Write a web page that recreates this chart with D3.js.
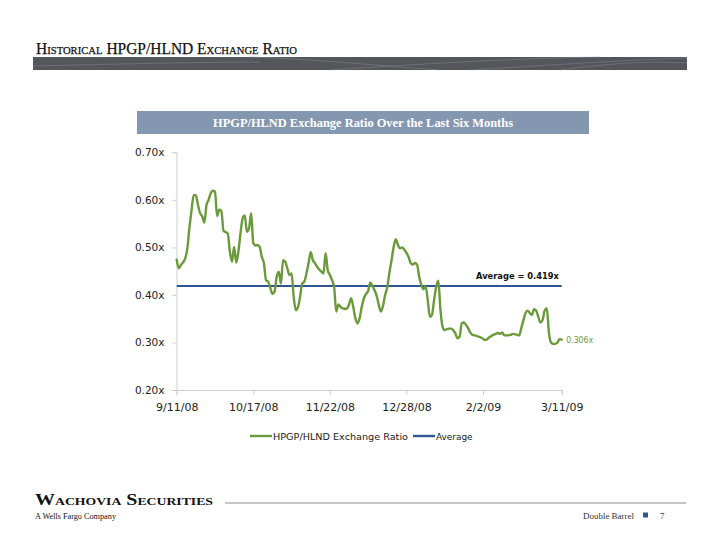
<!DOCTYPE html>
<html>
<head>
<meta charset="utf-8">
<script src="https://cdn.jsdelivr.net/npm/d3@7"></script>
<style>
  html, body { margin: 0; padding: 0; background: #fff; }
  svg { display: block; }
</style>
</head>
<body>
<svg id="chart" width="720" height="556"></svg>
<script>
// ---------------- DATA ----------------
const dates = [
"2008-09-11","2008-09-12","2008-09-13","2008-09-15","2008-09-16","2008-09-17","2008-09-18","2008-09-19","2008-09-20","2008-09-21",
"2008-09-22","2008-09-23","2008-09-24","2008-09-25","2008-09-26","2008-09-27","2008-09-28","2008-09-29","2008-09-30","2008-10-01",
"2008-10-02","2008-10-03","2008-10-05","2008-10-06","2008-10-07","2008-10-08","2008-10-09","2008-10-10","2008-10-11","2008-10-12",
"2008-10-13","2008-10-14","2008-10-15","2008-10-16","2008-10-17","2008-10-18","2008-10-19","2008-10-20","2008-10-21","2008-10-22",
"2008-10-23","2008-10-24","2008-10-25","2008-10-26","2008-10-27","2008-10-28","2008-10-29","2008-10-30","2008-10-31","2008-11-01",
"2008-11-02","2008-11-03","2008-11-04","2008-11-05","2008-11-06","2008-11-07","2008-11-08","2008-11-09","2008-11-10","2008-11-11",
"2008-11-12","2008-11-13","2008-11-14","2008-11-15","2008-11-16","2008-11-18","2008-11-19","2008-11-20","2008-11-21","2008-11-22",
"2008-11-23","2008-11-24","2008-11-25","2008-11-26","2008-11-27","2008-11-28","2008-11-29","2008-11-30","2008-12-01","2008-12-02",
"2008-12-03","2008-12-04","2008-12-05","2008-12-06","2008-12-07","2008-12-08","2008-12-09","2008-12-10","2008-12-11","2008-12-12",
"2008-12-13","2008-12-14","2008-12-15","2008-12-16","2008-12-17","2008-12-18","2008-12-19","2008-12-20","2008-12-21","2008-12-22",
"2008-12-23","2008-12-24","2008-12-25","2008-12-26","2008-12-27","2008-12-29","2008-12-30","2008-12-31","2009-01-01","2009-01-02",
"2009-01-03","2009-01-04","2009-01-05","2009-01-06","2009-01-07","2009-01-08","2009-01-09","2009-01-10","2009-01-11","2009-01-12",
"2009-01-13","2009-01-14","2009-01-15","2009-01-16","2009-01-17","2009-01-18","2009-01-19","2009-01-20","2009-01-21","2009-01-22",
"2009-01-23","2009-01-24","2009-01-25","2009-01-26","2009-01-27","2009-01-28","2009-01-29","2009-01-31","2009-02-02","2009-02-03",
"2009-02-04","2009-02-05","2009-02-07","2009-02-08","2009-02-09","2009-02-10","2009-02-11","2009-02-12","2009-02-13","2009-02-15",
"2009-02-16","2009-02-18","2009-02-19","2009-02-20","2009-02-21","2009-02-22","2009-02-23","2009-02-24","2009-02-25","2009-02-26",
"2009-02-27","2009-02-28","2009-03-01","2009-03-02","2009-03-03","2009-03-04","2009-03-05","2009-03-06","2009-03-07","2009-03-08",
"2009-03-09","2009-03-10","2009-03-11"
];
const ratioValues = [
0.474,0.456,0.463,0.477,0.498,0.542,0.579,0.610,0.610,0.589,
0.572,0.565,0.552,0.589,0.600,0.614,0.619,0.617,0.566,0.579,
0.577,0.535,0.529,0.491,0.470,0.501,0.468,0.491,0.530,0.561,
0.567,0.533,0.540,0.572,0.509,0.504,0.505,0.501,0.480,0.467,
0.431,0.428,0.415,0.402,0.407,0.438,0.449,0.424,0.473,0.470,
0.456,0.442,0.445,0.396,0.368,0.374,0.396,0.424,0.428,0.445,
0.467,0.490,0.473,0.467,0.459,0.449,0.445,0.488,0.452,0.442,
0.431,0.417,0.365,0.380,0.375,0.372,0.371,0.371,0.380,0.393,
0.375,0.351,0.340,0.351,0.375,0.393,0.402,0.408,0.426,0.419,
0.410,0.398,0.379,0.365,0.377,0.400,0.416,0.447,0.473,0.501,
0.517,0.505,0.498,0.500,0.495,0.480,0.467,0.464,0.467,0.464,
0.438,0.421,0.412,0.418,0.390,0.354,0.358,0.389,0.417,0.430,
0.368,0.333,0.326,0.328,0.329,0.329,0.326,0.319,0.309,0.312,
0.340,0.342,0.337,0.330,0.321,0.316,0.315,0.312,0.308,0.305,
0.307,0.311,0.316,0.318,0.320,0.318,0.321,0.315,0.315,0.316,
0.318,0.316,0.315,0.330,0.347,0.362,0.367,0.362,0.358,0.370,
0.367,0.354,0.342,0.347,0.367,0.372,0.320,0.300,0.297,0.297,
0.300,0.307,0.306
];
const averageValue = 0.419;
const lastValue = 0.306;
const xTickDates = ["2008-09-11","2008-10-17","2008-11-22","2008-12-28","2009-02-02","2009-03-11"];
const yTickValues = [0.20, 0.30, 0.40, 0.50, 0.60, 0.70];
const seriesNames = ["HPGP/HLND Exchange Ratio", "Average"];
const pageTitle = "Historical HPGP/HLND Exchange Ratio";
const chartTitle = "HPGP/HLND Exchange Ratio Over the Last Six Months";

// ---------------- DRAW ----------------
const parse = d3.timeParse("%Y-%m-%d");
const fmtDate = d3.timeFormat("%-m/%-d/%y");
const data = dates.map((d, i) => ({ date: parse(d), value: ratioValues[i] }));

const svg = d3.select("#chart");
svg.append("rect").attr("width", 720).attr("height", 556).attr("fill", "#fff");

const GREEN = "#6B9A3A";
const BLUE = "#2F5597";
const AXISFONT = "'DejaVu Sans', Verdana, sans-serif";
const SERIF = "'Liberation Serif', 'DejaVu Serif', serif";

// page title
svg.append("text")
  .attr("x", 36).attr("y", 54)
  .attr("font-family", SERIF)
  .attr("font-size", 16)
  .attr("font-variant", "small-caps")
  .attr("fill", "#111")
  .attr("stroke", "#111").attr("stroke-width", 0.25)
  .attr("textLength", 261).attr("lengthAdjust", "spacingAndGlyphs")
  .text(pageTitle);

// decorative band
const band = svg.append("g");
band.append("rect").attr("x", 33).attr("y", 57).attr("width", 654).attr("height", 13).attr("fill", "#55565b");
const bandLines = [
  "M250,57 C330,60 380,66 440,70",
  "M330,70 C420,64 520,58 600,57",
  "M470,70 C540,66 620,60 687,58",
  "M560,70 C600,65 640,60 687,63",
  "M33,66 C120,64 200,62 260,62"
];
band.selectAll("path").data(bandLines).enter().append("path")
  .attr("d", d => d).attr("fill", "none").attr("stroke", "#8a8f99")
  .attr("stroke-width", 0.8).attr("opacity", 0.55);

// chart header box
svg.append("rect").attr("x", 137).attr("y", 111).attr("width", 452).attr("height", 23).attr("fill", "#8497B0");
svg.append("text")
  .attr("x", 363).attr("y", 127)
  .attr("text-anchor", "middle")
  .attr("font-family", SERIF)
  .attr("font-size", 12.5).attr("font-weight", "bold")
  .attr("fill", "#fff")
  .attr("textLength", 300).attr("lengthAdjust", "spacingAndGlyphs")
  .text(chartTitle);

// scales
const x = d3.scaleTime()
  .domain([parse(xTickDates[0]), parse(xTickDates[xTickDates.length - 1])])
  .range([176.7, 561.7]);
const y = d3.scaleLinear().domain([0.2, 0.7]).range([390, 152.3]);

// y axis
const yAxis = svg.append("g").attr("transform", "translate(176.5,0)")
  .call(d3.axisLeft(y).tickValues(yTickValues).tickSize(4).tickPadding(8)
        .tickFormat(d => d.toFixed(2) + "x"));
yAxis.select(".domain").attr("stroke", "#cfcfcf").attr("stroke-width", 1);
yAxis.selectAll(".tick line").attr("stroke", "#cfcfcf");
yAxis.selectAll("text").attr("font-family", AXISFONT).attr("font-size", 10.5).attr("fill", "#222");

// x axis
const xAxis = svg.append("g").attr("transform", "translate(0,390)")
  .call(d3.axisBottom(x).tickValues(xTickDates.map(parse)).tickSize(5).tickPadding(8)
        .tickFormat(fmtDate));
xAxis.select(".domain").attr("stroke", "#cfcfcf").attr("stroke-width", 1);
xAxis.selectAll(".tick line").attr("stroke", "#cfcfcf");
xAxis.selectAll("text").attr("font-family", AXISFONT).attr("font-size", 11).attr("fill", "#222");

// average line
svg.append("line")
  .attr("x1", x.range()[0]).attr("x2", x.range()[1])
  .attr("y1", y(averageValue)).attr("y2", y(averageValue))
  .attr("stroke", BLUE).attr("stroke-width", 2);

// ratio line
const line = d3.line().x(d => x(d.date)).y(d => y(d.value)).curve(d3.curveMonotoneX);
svg.append("path").datum(data)
  .attr("d", line)
  .attr("fill", "none").attr("stroke", GREEN).attr("stroke-width", 2.4)
  .attr("stroke-linejoin", "round").attr("stroke-linecap", "round");

// labels
svg.append("text")
  .attr("x", 559).attr("y", y(averageValue) - 6.5)
  .attr("text-anchor", "end")
  .attr("font-family", AXISFONT).attr("font-size", 9.5).attr("font-weight", "bold")
  .attr("fill", "#111")
  .attr("textLength", 83).attr("lengthAdjust", "spacingAndGlyphs")
  .text("Average = " + averageValue.toFixed(3) + "x");

const lastPt = data[data.length - 1];
svg.append("text")
  .attr("x", x(lastPt.date) + 4.5).attr("y", y(lastValue) + 3)
  .attr("font-family", AXISFONT).attr("font-size", 9)
  .attr("fill", GREEN)
  .attr("textLength", 27).attr("lengthAdjust", "spacingAndGlyphs")
  .text(lastValue.toFixed(3) + "x");

// legend
const legend = svg.append("g");
const legendItems = [
  { name: seriesNames[0], color: GREEN, x0: 250, len: 135 },
  { name: seriesNames[1], color: BLUE, x0: 413, len: 36.5 }
];
legendItems.forEach(it => {
  legend.append("line").attr("x1", it.x0).attr("x2", it.x0 + 22).attr("y1", 436).attr("y2", 436)
    .attr("stroke", it.color).attr("stroke-width", 2.4);
  legend.append("text").attr("x", it.x0 + 23).attr("y", 439.5)
    .attr("font-family", AXISFONT).attr("font-size", 9.5).attr("fill", "#222")
    .attr("textLength", it.len).attr("lengthAdjust", "spacingAndGlyphs")
    .text(it.name);
});

// footer
svg.append("text")
  .attr("x", 35).attr("y", 505)
  .attr("font-family", SERIF).attr("font-size", 16).attr("font-weight", "bold")
  .attr("font-variant", "small-caps").attr("fill", "#111")
  .attr("textLength", 178).attr("lengthAdjust", "spacingAndGlyphs")
  .text("Wachovia Securities");
svg.append("line").attr("x1", 225).attr("x2", 686).attr("y1", 503).attr("y2", 503)
  .attr("stroke", "#8c8c8c").attr("stroke-width", 1);
svg.append("text")
  .attr("x", 35).attr("y", 519)
  .attr("font-family", SERIF).attr("font-size", 8.5).attr("fill", "#111")
  .attr("textLength", 81).attr("lengthAdjust", "spacingAndGlyphs")
  .text("A Wells Fargo Company");
svg.append("text")
  .attr("x", 583).attr("y", 519)
  .attr("font-family", SERIF).attr("font-size", 9).attr("fill", "#333")
  .attr("textLength", 51).attr("lengthAdjust", "spacingAndGlyphs")
  .text("Double Barrel");
svg.append("rect").attr("x", 643).attr("y", 512.5).attr("width", 5).attr("height", 5).attr("fill", BLUE);
svg.append("text")
  .attr("x", 660).attr("y", 519)
  .attr("font-family", SERIF).attr("font-size", 9).attr("fill", "#333")
  .text("7");
</script>
</body>
</html>
